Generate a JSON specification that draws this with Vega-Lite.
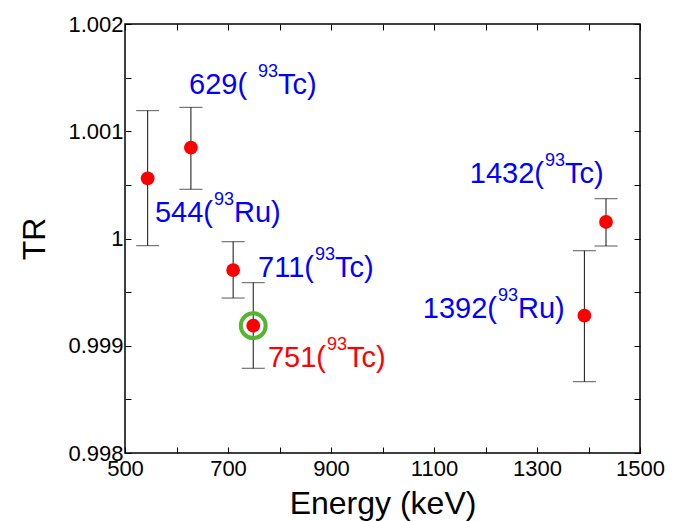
{
  "$schema": "https://vega.github.io/schema/vega-lite/v6.json",
  "width": 515,
  "height": 429,
  "autosize": "none",
  "padding": {"left": 125, "top": 24, "right": 50, "bottom": 68},
  "config": {
    "view": {"stroke": "#000", "strokeWidth": 1.5},
    "font": "Liberation Sans",
    "axis": {
      "domain": false,
      "grid": false,
      "tickColor": "#000",
      "tickWidth": 1,
      "labelFontSize": 22,
      "labelColor": "#000",
      "labelFont": "Liberation Sans",
      "titleFont": "Liberation Sans",
      "titleFontSize": 32,
      "titleFontWeight": "normal",
      "titleColor": "#000",
      "labelOverlap": false,
      "labelFlush": false
    }
  },
  "datasets": {
    "pts": [
      {"E": 544, "TR": 1.000561, "lo": 0.999933, "hi": 1.001192, "hl": false},
      {"E": 628, "TR": 1.000847, "lo": 1.000459, "hi": 1.001223, "hl": false},
      {"E": 710, "TR": 0.999706, "lo": 0.999445, "hi": 0.99997, "hl": false},
      {"E": 749, "TR": 0.999187, "lo": 0.99879, "hi": 0.999588, "hl": true},
      {"E": 1392, "TR": 0.99928, "lo": 0.998665, "hi": 0.999886, "hl": false},
      {"E": 1434, "TR": 1.000154, "lo": 0.99993, "hi": 1.000371, "hl": false}
    ],
    "labels": [
      {"px": 672.8, "ax": 672.8, "ay": 1.000154, "pre": "544(", "sup": "93", "suf": "Ru)", "col": "blue"},
      {"px": 739.0, "ax": 758.3, "ay": 1.001347, "pre": "629(", "sup": "93", "suf": "Tc)", "col": "blue"},
      {"px": 868.9, "ax": 868.9, "ay": 0.999641, "pre": "711(", "sup": "93", "suf": "Tc)", "col": "blue"},
      {"px": 892.2, "ax": 892.2, "ay": 0.998802, "pre": "751(", "sup": "93", "suf": "Tc)", "col": "red"},
      {"px": 1315.5, "ax": 1315.5, "ay": 1.000517, "pre": "1432(", "sup": "93", "suf": "Tc)", "col": "blue"},
      {"px": 1224.3, "ax": 1224.3, "ay": 0.999259, "pre": "1392(", "sup": "93", "suf": "Ru)", "col": "blue"}
    ]
  },
  "layer": [
    {
      "data": {"name": "pts"},
      "mark": {"type": "point", "opacity": 0},
      "encoding": {
        "x": {
          "field": "E", "type": "quantitative",
          "scale": {"domain": [500, 1500], "nice": false, "zero": false},
          "axis": {
            "orient": "bottom",
            "title": "Energy (keV)",
            "values": [500, 600, 700, 800, 900, 1000, 1100, 1200, 1300, 1400, 1500],
            "format": "d",
            "labelExpr": "datum.value % 200 == 100 ? datum.label : ''",
            "tickSize": -6,
            "labelPadding": 11,
            "titlePadding": 9,
            "encode": {"ticks": {"update": {"y2": {"signal": "datum.value % 200 == 0 ? -4 : -6"}}}}
          }
        },
        "y": {
          "field": "TR", "type": "quantitative",
          "scale": {"domain": [0.998, 1.002], "nice": false, "zero": false},
          "axis": {
            "orient": "left",
            "title": "TR",
            "values": [0.998, 0.9985, 0.999, 0.9995, 1, 1.0005, 1.001, 1.0015, 1.002],
            "labelExpr": "abs(datum.value*1000 - round(datum.value*1000)) < 0.01 ? (datum.value == 1 ? '1' : format(datum.value, '.3f')) : ''",
            "tickSize": -6,
            "labelPadding": 8,
            "titlePadding": 16,
            "encode": {"ticks": {"update": {"x2": {"signal": "abs(datum.value*1000 - round(datum.value*1000)) > 0.01 ? 4 : 6"}}}}
          }
        }
      }
    },
    {
      "data": {"name": "pts"},
      "mark": {"type": "point", "opacity": 0},
      "encoding": {
        "x": {
          "field": "E", "type": "quantitative",
          "scale": {"domain": [500, 1500], "nice": false, "zero": false},
          "axis": {
            "orient": "top",
            "title": null,
            "labels": false,
            "values": [500, 600, 700, 800, 900, 1000, 1100, 1200, 1300, 1400, 1500],
            "tickSize": -6,
            "encode": {"ticks": {"update": {"y2": {"signal": "datum.value % 200 == 0 ? 4 : 6"}}}}
          }
        },
        "y": {
          "field": "TR", "type": "quantitative",
          "scale": {"domain": [0.998, 1.002], "nice": false, "zero": false},
          "axis": {
            "orient": "right",
            "title": null,
            "labels": false,
            "values": [0.998, 0.9985, 0.999, 0.9995, 1, 1.0005, 1.001, 1.0015, 1.002],
            "tickSize": -6,
            "encode": {"ticks": {"update": {"x2": {"signal": "abs(datum.value*1000 - round(datum.value*1000)) > 0.01 ? -4 : -6"}}}}
          }
        }
      }
    },
    {
      "mark": {"type": "rule", "color": "#000", "strokeWidth": 1.5},
      "encoding": {"y": {"datum": 1, "type": "quantitative", "axis": null}}
    },
    {
      "data": {"name": "pts"},
      "mark": {"type": "rule", "color": "#111", "strokeWidth": 1},
      "encoding": {
        "x": {"field": "E", "type": "quantitative", "axis": null},
        "y": {"field": "lo", "type": "quantitative", "axis": null},
        "y2": {"field": "hi"}
      }
    },
    {
      "data": {"name": "pts"},
      "mark": {"type": "tick", "orient": "horizontal", "color": "#111", "size": 23, "thickness": 1},
      "encoding": {
        "x": {"field": "E", "type": "quantitative", "axis": null},
        "y": {"field": "lo", "type": "quantitative", "axis": null}
      }
    },
    {
      "data": {"name": "pts"},
      "mark": {"type": "tick", "orient": "horizontal", "color": "#111", "size": 23, "thickness": 1},
      "encoding": {
        "x": {"field": "E", "type": "quantitative", "axis": null},
        "y": {"field": "hi", "type": "quantitative", "axis": null}
      }
    },
    {
      "data": {"name": "pts"},
      "mark": {"type": "circle", "color": "#ff0000", "opacity": 1, "size": 190},
      "encoding": {
        "x": {"field": "E", "type": "quantitative", "axis": null},
        "y": {"field": "TR", "type": "quantitative", "axis": null}
      }
    },
    {
      "data": {"name": "pts"},
      "transform": [{"filter": "datum.hl"}],
      "mark": {"type": "point", "filled": false, "stroke": "#55b530", "strokeWidth": 4, "opacity": 1, "size": 615},
      "encoding": {
        "x": {"field": "E", "type": "quantitative", "axis": null},
        "y": {"field": "TR", "type": "quantitative", "axis": null}
      }
    },
    {
      "data": {"name": "labels"},
      "mark": {"type": "text", "align": "right", "baseline": "alphabetic", "fontSize": 29, "font": "Liberation Sans", "dx": -1},
      "encoding": {
        "x": {"field": "px", "type": "quantitative", "axis": null},
        "y": {"field": "ay", "type": "quantitative", "axis": null},
        "text": {"field": "pre"},
        "color": {"field": "col", "type": "nominal", "scale": null}
      }
    },
    {
      "data": {"name": "labels"},
      "mark": {"type": "text", "align": "left", "baseline": "alphabetic", "fontSize": 18, "font": "Liberation Sans", "dy": -17},
      "encoding": {
        "x": {"field": "ax", "type": "quantitative", "axis": null},
        "y": {"field": "ay", "type": "quantitative", "axis": null},
        "text": {"field": "sup"},
        "color": {"field": "col", "type": "nominal", "scale": null}
      }
    },
    {
      "data": {"name": "labels"},
      "mark": {"type": "text", "align": "left", "baseline": "alphabetic", "fontSize": 29, "font": "Liberation Sans", "dx": 20},
      "encoding": {
        "x": {"field": "ax", "type": "quantitative", "axis": null},
        "y": {"field": "ay", "type": "quantitative", "axis": null},
        "text": {"field": "suf"},
        "color": {"field": "col", "type": "nominal", "scale": null}
      }
    }
  ],
  "resolve": {"axis": {"x": "independent", "y": "independent"}}
}
